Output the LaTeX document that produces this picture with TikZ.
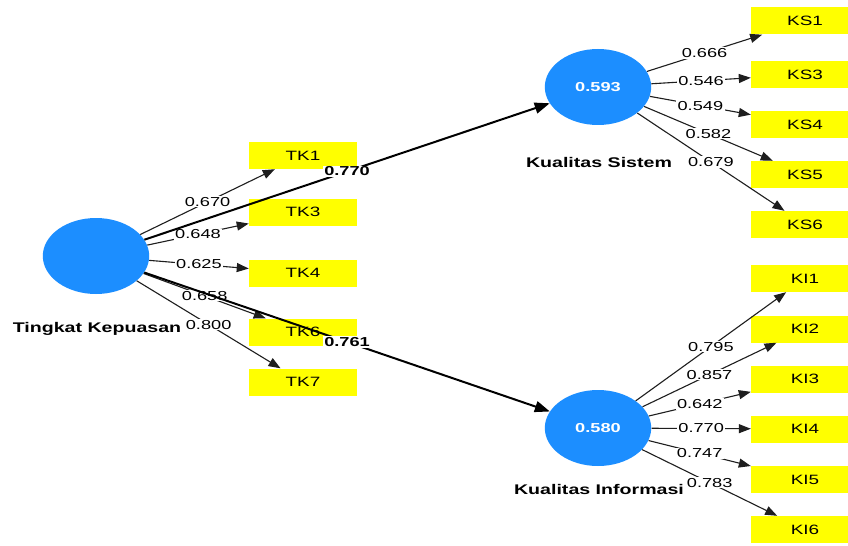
\documentclass[tikz,border=0pt]{standalone}
\usepackage{fontspec}
\setmainfont{Liberation Sans}
\usetikzlibrary{arrows.meta}
\definecolor{lvblue}{RGB}{28,142,255}
\definecolor{indyellow}{RGB}{255,255,0}
\definecolor{edgegray}{RGB}{30,30,30}
\begin{document}
\begin{tikzpicture}[x=0.7142857pt, y=-1pt, xscale=1.4, transform shape,
  lv/.style={circle, fill=lvblue, minimum size=76pt, inner sep=0pt, text=white,
    font=\bfseries\fontsize{13}{15}\selectfont},
  ind/.style={rectangle, fill=indyellow, minimum width=77.14pt, minimum height=27pt,
    inner sep=0pt, font=\fontsize{13.5}{15}\selectfont},
  ld/.style={-{Triangle[length=12pt,width=9pt]}, line width=1.1pt, draw=edgegray},
  pc/.style={-{Triangle[length=15pt,width=11pt]}, line width=2pt, draw=black},
  wl/.style={fill=white, inner sep=1pt, font=\fontsize{13}{15}\selectfont},
  wlb/.style={fill=white, inner sep=1pt, font=\bfseries\fontsize{13}{15}\selectfont},
  lvname/.style={font=\bfseries\fontsize{14}{16}\selectfont, inner sep=0pt}]
\clip (0,0) rectangle (848,545);
\fill[white] (0,0) rectangle (848,545);

% latent variables
\node[lv] (tk) at (96,256) {};
\node[lv] (ks) at (598,87) {0.593};
\node[lv] (ki) at (598,428) {0.580};

\node[lvname] (tkn) at (97,329) {Tingkat Kepuasan};
\node[lvname] (ksn) at (599,162) {Kualitas Sistem};
\node[lvname] (kin) at (599,489) {Kualitas Informasi};

% indicators
\node[ind] (tk1) at (303,155.5) {TK1};
\node[ind] (tk3) at (303,212) {TK3};
\node[ind] (tk4) at (303,273) {TK4};
\node[ind] (tk6) at (303,332) {TK6};
\node[ind] (tk7) at (303,382) {TK7};

\node[ind] (ks1) at (805,21) {KS1};
\node[ind] (ks3) at (805,74.5) {KS3};
\node[ind] (ks4) at (805,124.5) {KS4};
\node[ind] (ks5) at (805,174.5) {KS5};
\node[ind] (ks6) at (805,224.5) {KS6};

\node[ind] (ki1) at (805,278.5) {KI1};
\node[ind] (ki2) at (805,329) {KI2};
\node[ind] (ki3) at (805,379) {KI3};
\node[ind] (ki4) at (805,429) {KI4};
\node[ind] (ki5) at (805,479.5) {KI5};
\node[ind] (ki6) at (805,529.5) {KI6};

% outer loadings
\draw[ld] (tk) -- node[wl]{0.670} (tk1);
\draw[ld] (tk) -- node[wl]{0.648} (tk3);
\draw[ld] (tk) -- node[wl]{0.625} (tk4);
\draw[ld] (tk) -- node[wl]{0.658} (tk6);
\draw[ld] (tk) -- node[wl]{0.800} (tk7);

\draw[ld] (ks) -- node[wl]{0.666} (ks1);
\draw[ld] (ks) -- node[wl]{0.546} (ks3);
\draw[ld] (ks) -- node[wl]{0.549} (ks4);
\draw[ld] (ks) -- node[wl]{0.582} (ks5);
\draw[ld] (ks) -- node[wl]{0.679} (ks6);

\draw[ld] (ki) -- node[wl]{0.795} (ki1);
\draw[ld] (ki) -- node[wl]{0.857} (ki2);
\draw[ld] (ki) -- node[wl]{0.642} (ki3);
\draw[ld] (ki) -- node[wl]{0.770} (ki4);
\draw[ld] (ki) -- node[wl]{0.747} (ki5);
\draw[ld] (ki) -- node[wl]{0.783} (ki6);

% path coefficients
\draw[pc] (tk) -- node[wlb]{0.770} (ks);
\draw[pc] (tk) -- node[wlb]{0.761} (ki);
\end{tikzpicture}
\end{document}
